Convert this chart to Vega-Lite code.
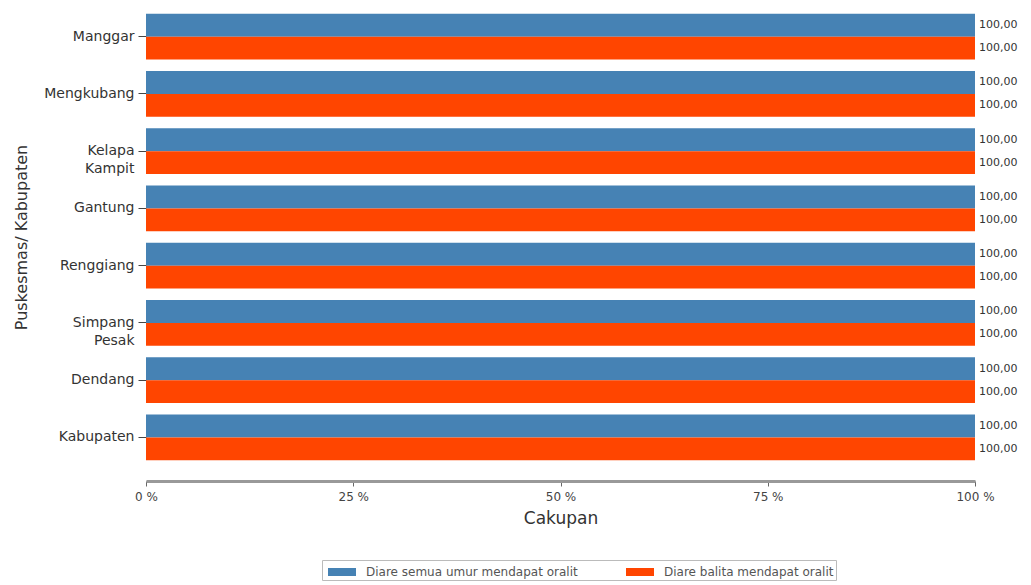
{
  "$schema": "https://vega.github.io/schema/vega-lite/v6.json",
  "width": 829,
  "height": 458,
  "autosize": "none",
  "padding": {"left": 146, "top": 8, "right": 56, "bottom": 119},
  "background": "white",
  "config": {
    "view": {"stroke": null},
    "font": "DejaVu Sans",
    "locale": {"number": {"decimal": ",", "thousands": ".", "grouping": [3], "currency": ["", ""]}}
  },
  "data": {"values": [
    {"wilayah": "Manggar", "seri": "Diare semua umur mendapat oralit", "nilai": 100},
    {"wilayah": "Manggar", "seri": "Diare balita mendapat oralit", "nilai": 100},
    {"wilayah": "Mengkubang", "seri": "Diare semua umur mendapat oralit", "nilai": 100},
    {"wilayah": "Mengkubang", "seri": "Diare balita mendapat oralit", "nilai": 100},
    {"wilayah": "Kelapa Kampit", "seri": "Diare semua umur mendapat oralit", "nilai": 100},
    {"wilayah": "Kelapa Kampit", "seri": "Diare balita mendapat oralit", "nilai": 100},
    {"wilayah": "Gantung", "seri": "Diare semua umur mendapat oralit", "nilai": 100},
    {"wilayah": "Gantung", "seri": "Diare balita mendapat oralit", "nilai": 100},
    {"wilayah": "Renggiang", "seri": "Diare semua umur mendapat oralit", "nilai": 100},
    {"wilayah": "Renggiang", "seri": "Diare balita mendapat oralit", "nilai": 100},
    {"wilayah": "Simpang Pesak", "seri": "Diare semua umur mendapat oralit", "nilai": 100},
    {"wilayah": "Simpang Pesak", "seri": "Diare balita mendapat oralit", "nilai": 100},
    {"wilayah": "Dendang", "seri": "Diare semua umur mendapat oralit", "nilai": 100},
    {"wilayah": "Dendang", "seri": "Diare balita mendapat oralit", "nilai": 100},
    {"wilayah": "Kabupaten", "seri": "Diare semua umur mendapat oralit", "nilai": 100},
    {"wilayah": "Kabupaten", "seri": "Diare balita mendapat oralit", "nilai": 100}
  ]},
  "encoding": {
    "y": {
      "field": "wilayah", "type": "nominal", "sort": null,
      "scale": {"paddingInner": 0.2, "paddingOuter": 0.1},
      "axis": {
        "title": "Puskesmas/ Kabupaten", "titleFontSize": 16, "titleFontWeight": "normal", "titleColor": "#333",
        "titlePadding": 14,
        "labelExpr": "split(datum.label, ' ')", "labelFontSize": 14, "labelColor": "#333",
        "labelLineHeight": 18,
        "domain": false, "tickColor": "#444", "tickSize": 8, "labelPadding": 4
      }
    },
    "yOffset": {"field": "seri", "type": "nominal", "sort": ["Diare semua umur mendapat oralit", "Diare balita mendapat oralit"]},
    "x": {
      "field": "nilai", "type": "quantitative",
      "scale": {"domain": [0, 100], "nice": false},
      "axis": {
        "title": "Cakupan", "titleFontSize": 17, "titleFontWeight": "normal", "titleColor": "#333", "titlePadding": 8,
        "values": [0, 25, 50, 75, 100], "labelExpr": "datum.value + ' %'", "labelFlush": false,
        "labelFontSize": 12, "labelColor": "#444", "labelPadding": 5,
        "grid": false, "domainColor": "#999", "domainWidth": 3, "tickColor": "#666", "tickSize": 5,
        "offset": 15
      }
    }
  },
  "layer": [
    {
      "mark": {"type": "bar"},
      "encoding": {
        "color": {
          "field": "seri", "type": "nominal",
          "sort": ["Diare semua umur mendapat oralit", "Diare balita mendapat oralit"],
          "scale": {"domain": ["Diare semua umur mendapat oralit", "Diare balita mendapat oralit"], "range": ["#4682B4", "#FF4500"]},
          "legend": {
            "title": null, "orient": "none", "direction": "horizontal",
            "legendX": 176, "legendY": 552,
            "symbolType": "M-1.4,-0.4H1.4V0.4H-1.4Z", "symbolSize": 400, "symbolStrokeWidth": 0, "symbolOffset": 8,
            "labelFontSize": 12, "labelColor": "#555", "labelLimit": 0, "columnPadding": 44, "labelOffset": 14,
            "strokeColor": "#bbb", "padding": 2, "fillColor": "white"
          }
        }
      }
    },
    {
      "mark": {"type": "text", "align": "left", "dx": 4, "fontSize": 11, "color": "#333"},
      "encoding": {"text": {"field": "nilai", "type": "quantitative", "format": ".2f"},
        "detail": {"field": "seri"}}
    }
  ]
}
